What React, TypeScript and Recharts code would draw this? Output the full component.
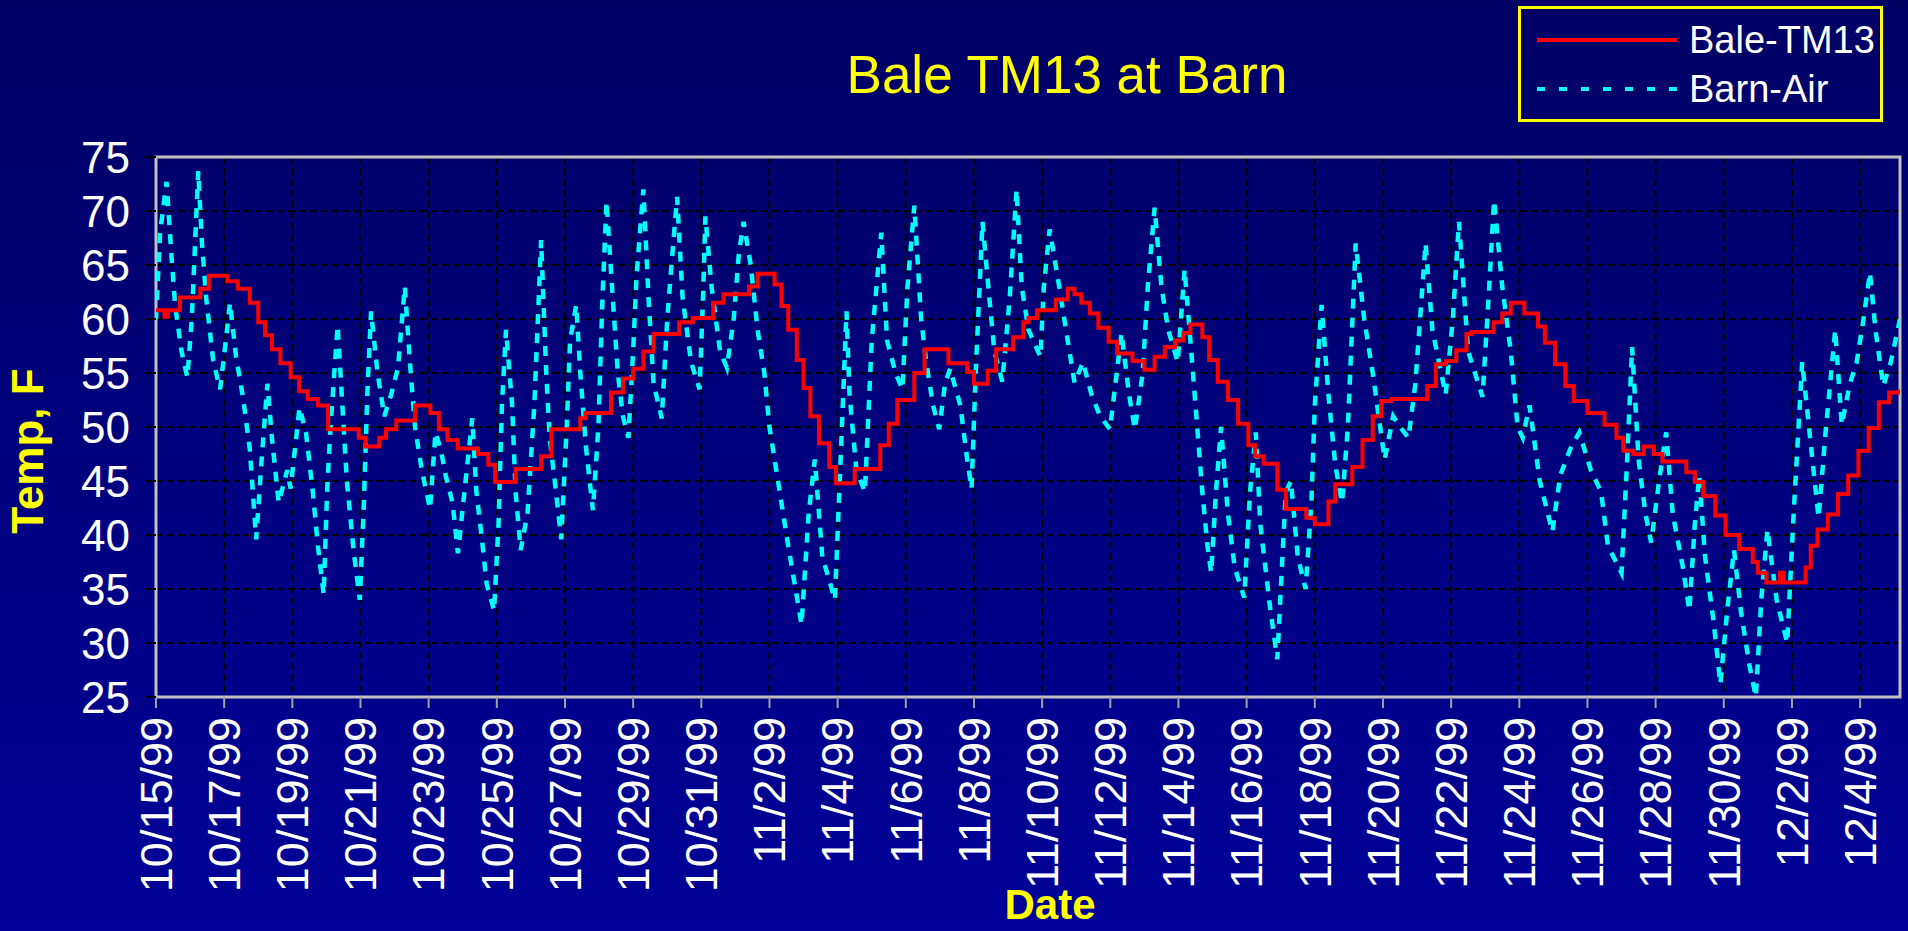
import React from "react";
import { LineChart, Line, XAxis, YAxis, CartesianGrid, ReferenceArea, Legend } from "recharts";

const FONT = "'Liberation Sans', Arial, sans-serif";

// tick labels, one every 2 days starting 10/15/99
const dateLabels = [
  "10/15/99", "10/17/99", "10/19/99", "10/21/99", "10/23/99", "10/25/99", "10/27/99",
  "10/29/99", "10/31/99", "11/2/99", "11/4/99", "11/6/99", "11/8/99", "11/10/99",
  "11/12/99", "11/14/99", "11/16/99", "11/18/99", "11/20/99", "11/22/99", "11/24/99",
  "11/26/99", "11/28/99", "11/30/99", "12/2/99", "12/4/99",
];
const tempTicks = [25, 30, 35, 40, 45, 50, 55, 60, 65, 70, 75];

// Barn-Air: days since 10/15/99 and temperature (F)
const airDays = [
  0, 0.12, 0.31, 0.45, 0.56, 0.75, 0.92, 1.05, 1.24, 1.35, 1.47, 1.68, 1.88, 2.05, 2.17, 2.35,
  2.55, 2.75, 2.94, 3.1, 3.27, 3.4, 3.6, 3.85, 3.95, 4.21, 4.4, 4.6, 4.75, 4.92, 5.02, 5.12,
  5.33, 5.45, 5.6, 5.8, 5.98, 6.1, 6.2, 6.31, 6.5, 6.7, 6.9, 7.1, 7.3, 7.45, 7.6, 7.8,
  8.04, 8.2, 8.35, 8.5, 8.7, 8.86, 9.05, 9.28, 9.4, 9.55, 9.7, 9.92, 10.05, 10.15, 10.27, 10.45,
  10.55, 10.7, 10.9, 11.1, 11.3, 11.45, 11.55, 11.7, 11.89, 12.05, 12.15, 12.33, 12.45, 12.62, 12.82, 12.98,
  13.1, 13.22, 13.38, 13.55, 13.7, 13.86, 14.0, 14.1, 14.3, 14.45, 14.6, 14.84, 15.0, 15.15, 15.29, 15.45,
  15.7, 15.95, 16.05, 16.12, 16.3, 16.55, 16.75, 16.95, 17.1, 17.24, 17.45, 17.65, 17.85, 18.0, 18.25, 18.55,
  18.94, 19.15, 19.33, 19.55, 19.92, 20.1, 20.26, 20.35, 20.55, 20.8, 21.0, 21.28, 21.45, 21.7, 21.9, 22.05,
  22.25, 22.45, 22.6, 22.8, 22.98, 23.15, 23.3, 23.6, 23.8, 23.93, 24.05, 24.25, 24.45, 24.6, 24.83, 25.05,
  25.25, 25.4, 25.6, 25.95, 26.05, 26.22, 26.5, 26.7, 26.95, 27.2, 27.45, 27.7, 27.99, 28.15, 28.33, 28.55,
  28.72, 28.95, 29.1, 29.3, 29.5, 29.7, 29.98, 30.18, 30.35, 30.5, 30.7, 30.85, 30.96, 31.1, 31.25, 31.45,
  31.65, 31.93, 32.1, 32.27, 32.4, 32.7, 32.9, 33.05, 33.15, 33.3, 33.5, 33.73, 33.9, 34.0, 34.2, 34.4,
  34.6, 34.8, 34.97, 35.2, 35.45, 35.7, 36.05, 36.3, 36.5, 36.75, 36.95, 37.25, 37.45, 37.84, 38.05, 38.23,
  38.5, 38.92, 39.1, 39.26, 39.5, 39.75, 39.95, 40.1, 40.3, 40.6, 40.97, 41.2, 41.5, 41.76, 42.1, 42.4,
  42.6, 43.0, 43.15, 43.31, 43.5, 43.7, 43.87, 44.1, 44.31, 44.5, 44.8, 44.99, 45.15, 45.28, 45.45, 45.7,
  45.9, 46.1, 46.3, 46.5, 46.75, 46.94, 47.1, 47.28, 47.55, 47.86, 48.05, 48.3, 48.5, 48.78, 49.0, 49.27,
  49.46, 49.7, 49.9, 50.1, 50.29, 50.45, 50.68, 50.9, 51.17,
];
const airTemps = [
  60, 68, 72.7, 66, 61.3, 57, 54.6, 60, 73.7, 67, 62, 56.1, 53.5, 58, 61.5, 56.5,
  52.8, 48, 39.6, 47, 54, 49, 43, 46, 44.3, 51.8, 49.5, 44, 39, 34.5, 44, 50,
  59.4, 53, 45, 38.5, 34, 43, 53, 60.7, 55, 51, 53, 55.5, 63, 56, 50, 46,
  42.4, 49.5, 48, 45.5, 43, 38.3, 44, 50.8, 44, 40, 35.5, 33, 41, 52, 59, 52,
  44, 38.6, 42, 52, 67.3, 55, 49, 45, 39.6, 50, 58, 61.3, 55, 48, 42.3, 50,
  62, 70.9, 63, 55, 51, 49, 57, 64, 72, 62, 54, 50.8, 60, 66, 71.3, 62,
  56, 53.5, 62, 69.5, 63, 57, 55.5, 60, 66, 69, 65, 59, 55, 50, 45, 39,
  31.7, 42, 47, 38, 34, 48, 60.7, 53, 46, 44, 58, 68, 58, 55, 53.5, 63,
  70.5, 60, 56, 52, 49.8, 54, 55.4, 52, 47, 44.3, 55, 69, 62, 57, 54.2, 62,
  72, 63, 59, 56.5, 63, 68.3, 63, 59, 54.1, 56, 53, 51, 49.8, 54, 58.7, 53,
  49.8, 55, 63, 70.3, 63, 59, 56, 64.6, 58, 52, 44, 39, 36.5, 44, 50, 42,
  37, 34.2, 44, 49.5, 41, 33, 28.5, 38, 44, 45, 38, 35, 43, 52, 61.3, 53,
  46.5, 43, 50, 67, 60, 55, 47, 51, 50, 49, 54, 67, 59, 53, 60, 69,
  57, 52.8, 62, 71, 63, 57, 50, 49, 52, 45, 40.3, 45.5, 48, 49.5, 46, 44,
  39, 36.5, 46, 57.4, 47, 42, 39.3, 45, 49.5, 42, 37, 33, 41, 45.5, 38, 32,
  26.2, 33, 38.6, 33, 28, 25, 34, 40.5, 34, 30, 42, 56, 50, 41.6, 50, 59,
  50.2, 54, 56, 60, 64.3, 59, 53.8, 56, 60,
];

// Bale-TM13: days since 10/15/99 where the reading changes, and the reading (F)
const baleDays = [
  0, 0.25, 0.35, 0.7, 1.3, 1.55, 2.1, 2.4, 2.75, 3.0, 3.2, 3.4, 3.65, 3.95, 4.2, 4.45,
  4.75, 5.05, 5.95, 6.15, 6.55, 6.75, 7.05, 7.6, 8.05, 8.3, 8.55, 8.85, 9.45, 9.75, 9.95, 10.55,
  11.3, 11.6, 12.45, 12.6, 13.35, 13.7, 14.0, 14.3, 14.6, 15.35, 15.75, 16.35, 16.65, 17.4, 17.65, 18.15,
  18.35, 18.55, 18.8, 19.0, 19.2, 19.45, 19.75, 19.95, 20.5, 21.25, 21.5, 21.75, 22.25, 22.55, 23.25, 23.8,
  24.0, 24.4, 24.65, 25.15, 25.45, 25.6, 25.85, 26.4, 26.75, 26.95, 27.15, 27.4, 27.65, 27.95, 28.2, 28.65,
  29.0, 29.3, 29.6, 29.9, 30.15, 30.35, 30.7, 30.9, 31.15, 31.45, 31.75, 32.05, 32.25, 32.5, 32.9, 33.15,
  33.75, 34.0, 34.4, 34.6, 35.1, 35.4, 35.7, 35.95, 36.25, 37.3, 37.55, 37.85, 38.15, 38.45, 38.6, 39.25,
  39.5, 39.75, 40.15, 40.55, 40.75, 41.05, 41.35, 41.6, 42.0, 42.5, 42.85, 43.05, 43.35, 43.65, 43.95, 44.2,
  44.9, 45.15, 45.4, 45.75, 46.05, 46.45, 46.85, 47.0, 47.25, 47.65, 47.75, 48.4, 48.55, 48.75, 49.05, 49.35,
  49.65, 49.95, 50.25, 50.55, 50.85, 51.17,
];
const baleTemps = [
  60.8, 60.2, 60.8, 62, 62.8, 64, 63.5, 62.8, 61.5, 59.7, 58.5, 57.2, 55.9, 54.6, 53.3, 52.6,
  52, 49.8, 49, 48.2, 49, 49.8, 50.6, 52, 51.3, 49.8, 48.8, 48, 47.5, 46.5, 44.9, 46.1,
  47.3, 49.8, 50.8, 51.3, 53.2, 54.5, 55.4, 57, 58.6, 59.7, 60.1, 61.5, 62.3, 63, 64.2, 63.2,
  61.2, 59, 56.2, 53.6, 51, 48.5, 46.3, 44.8, 46.1, 48.3, 50.3, 52.5, 55, 57.2, 55.9, 55.1,
  54, 55.2, 57.2, 58.3, 59.7, 60.1, 60.8, 61.8, 62.8, 62.3, 61.5, 60.5, 59.2, 57.9, 56.8, 56.1,
  55.3, 56.5, 57.4, 58, 58.7, 59.5, 58.3, 56.2, 54.2, 52.5, 50.3, 48.3, 47.3, 46.6, 44.2, 42.4,
  41.6, 41, 43.1, 44.7, 46.3, 48.8, 51, 52.4, 52.6, 53.8, 55.8, 56.1, 57.1, 58.6, 58.8, 59.7,
  60.5, 61.5, 60.5, 59.3, 57.8, 55.8, 53.8, 52.4, 51.3, 50.2, 49, 47.8, 47.5, 48.2, 47.5, 46.8,
  45.8, 44.9, 43.6, 41.8, 40, 38.7, 37.5, 36.5, 35.6, 36.5, 35.6, 37, 39, 40.5, 41.9, 43.8,
  45.5, 47.8, 49.9, 52.3, 53.2, 53.5,
];

const LAST_DAY = 51.17;

const airData = airDays.map((day, i) => ({ day, temp: airTemps[i] }));
const baleData = baleDays.map((day, i) => ({ day, temp: baleTemps[i] }));
const dayTicks = dateLabels.map((_, i) => i * 2);

// rotated date label under each tick
const DateTick = ({ x, y, payload }: any) => {
  const label = dateLabels[Math.round(payload.value / 2)];
  return (
    <text
      x={x}
      y={y}
      dy="0.35em"
      transform={`rotate(-90 ${x} ${y})`}
      textAnchor="end"
      fill="#FFFFFF"
      fontSize={45}
      fontFamily={FONT}
    >
      {label}
    </text>
  );
};

const LEGEND_ORDER = ["Bale-TM13", "Barn-Air"];

const renderLegend = (props: any) => {
  const items = [...(props.payload || [])].sort(
    (a: any, b: any) => LEGEND_ORDER.indexOf(a.value) - LEGEND_ORDER.indexOf(b.value)
  );
  return (
    <div
      style={{
        position: "relative",
        width: 365,
        height: 116,
        border: "3px solid #FFFF00",
        boxSizing: "border-box",
        fontFamily: FONT,
      }}
    >
      {items.map((entry: any, i: number) => (
        <div
          key={entry.value}
          style={{ position: "absolute", left: 16, top: 8 + i * 49, height: 46, display: "flex", alignItems: "center" }}
        >
          <svg width={140} height={10} style={{ display: "block" }}>
            <line
              x1={0}
              y1={5}
              x2={140}
              y2={5}
              stroke={entry.color}
              strokeWidth={4}
              strokeDasharray={entry.value === "Barn-Air" ? "8 14" : undefined}
            />
          </svg>
          <span style={{ marginLeft: 12, color: "#FFFFFF", fontSize: 38, lineHeight: "46px" }}>{entry.value}</span>
        </div>
      ))}
    </div>
  );
};

export default function App() {
  return (
    <div
      style={{
        position: "absolute",
        left: 0,
        top: 0,
        width: 1908,
        height: 931,
        overflow: "hidden",
        background: "linear-gradient(to bottom, #000064 0%, #00007c 45%, #000098 100%)",
        fontFamily: FONT,
      }}
    >
      <div
        style={{
          position: "absolute",
          left: 717,
          top: 48,
          width: 700,
          textAlign: "center",
          color: "#FFFF00",
          fontSize: 53,
          lineHeight: "53px",
        }}
      >
        Bale TM13 at Barn
      </div>
      <div
        style={{
          position: "absolute",
          left: 950,
          top: 884,
          width: 200,
          textAlign: "center",
          color: "#FFFF00",
          fontSize: 42,
          fontWeight: "bold",
          lineHeight: "42px",
        }}
      >
        Date
      </div>
      <div
        style={{
          position: "absolute",
          left: -122,
          top: 429,
          width: 300,
          height: 44,
          textAlign: "center",
          color: "#FFFF00",
          fontSize: 44,
          fontWeight: "bold",
          lineHeight: "44px",
          transform: "rotate(-90deg)",
        }}
      >
        Temp, F
      </div>

      <LineChart width={1908} height={931} margin={{ top: 157, right: 8, bottom: 34, left: 56 }}>
        <CartesianGrid stroke="#000000" strokeWidth={2} strokeDasharray="7 4" />
        <XAxis
          dataKey="day"
          type="number"
          domain={[0, LAST_DAY]}
          ticks={dayTicks}
          interval={0}
          allowDataOverflow
          height={200}
          tickSize={11}
          tickMargin={9}
          axisLine={false}
          tickLine={{ stroke: "#A0A0A0", strokeWidth: 2 }}
          tick={<DateTick />}
        />
        <YAxis
          type="number"
          domain={[25, 75]}
          ticks={tempTicks}
          interval={0}
          allowDataOverflow
          width={100}
          tickSize={10}
          tickMargin={16}
          axisLine={false}
          tickLine={{ stroke: "#000000", strokeWidth: 2 }}
          tick={{ fill: "#FFFFFF", fontSize: 44, fontFamily: FONT }}
        />
        <ReferenceArea
          x1={0}
          x2={LAST_DAY}
          y1={25}
          y2={75}
          fill="none"
          fillOpacity={0}
          stroke="#C0C0C0"
          strokeWidth={3}
        />
        <Line
          data={airData}
          dataKey="temp"
          name="Barn-Air"
          type="linear"
          stroke="#00FFFF"
          strokeWidth={4.5}
          strokeDasharray="10 9"
          dot={false}
          isAnimationActive={false}
        />
        <Line
          data={baleData}
          dataKey="temp"
          name="Bale-TM13"
          type="stepAfter"
          stroke="#FF0000"
          strokeWidth={4}
          dot={false}
          isAnimationActive={false}
        />
        <Legend
          layout="horizontal"
          verticalAlign="middle"
          align="center"
          content={renderLegend}
          wrapperStyle={{ left: 1518, top: 6, width: 365, height: 116 }}
        />
      </LineChart>
    </div>
  );
}
